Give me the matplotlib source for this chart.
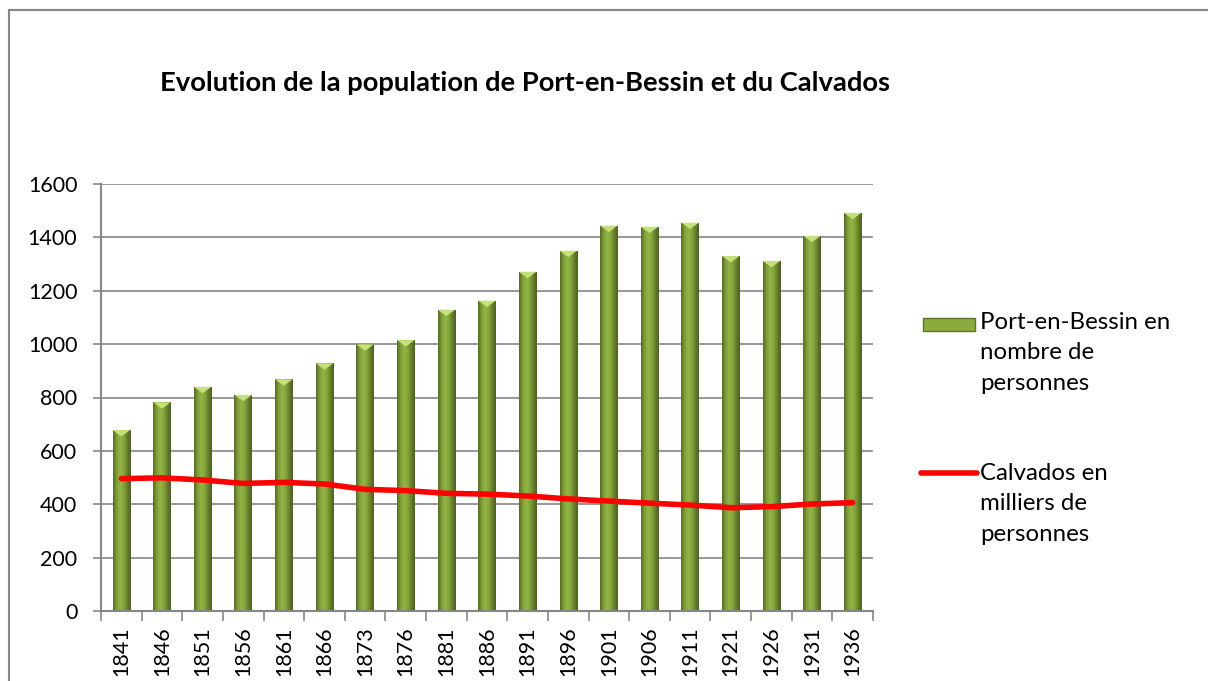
import matplotlib
matplotlib.use("Agg")
import matplotlib.pyplot as plt
import numpy as np
from matplotlib.colors import LinearSegmentedColormap
from matplotlib.patches import Rectangle, Polygon
from matplotlib.lines import Line2D

plt.rcParams['font.family'] = ['Lato', 'DejaVu Sans']

years = ["1841", "1846", "1851", "1856", "1861", "1866", "1873", "1876", "1881", "1886",
         "1891", "1896", "1901", "1906", "1911", "1921", "1926", "1931", "1936"]
port_en_bessin = [678, 782, 840, 810, 868, 928, 999, 1015, 1129, 1163,
                  1271, 1350, 1444, 1440, 1455, 1330, 1312, 1406, 1492]
calvados = [496, 499, 491, 478, 482, 476, 456, 451, 441, 438,
            431, 420, 412, 404, 397, 387, 391, 401, 406]

label_bar = "Port-en-Bessin en\nnombre de\npersonnes"
label_line = "Calvados en\nmilliers de\npersonnes"
title = "Evolution de la population de Port-en-Bessin et du Calvados"

W, H = 1208, 681
fig = plt.figure(figsize=(W / 100, H / 100), dpi=100)
ax = fig.add_axes([101 / W, 1 - 611 / H, 772 / W, 427 / H])

# outer chart frame
fig.patches.append(Rectangle((9 / W, -0.1), 1.2, 1 - 10 / H + 0.1, transform=fig.transFigure,
                             fill=False, edgecolor="#868686", linewidth=1.5))

x = np.arange(len(years))
bw = 0.43
grid_c = "#868686"
tick_fs = 15.5
leg_fs = 17.3

ax.set_xlim(-0.5, len(years) - 0.5)
ax.set_ylim(0, 1600)
ax.set_yticks(range(0, 1601, 200))
ax.yaxis.grid(True, color=grid_c, linewidth=1.2)
ax.set_axisbelow(True)

cyl = LinearSegmentedColormap.from_list(
    "cyl", ["#546a26", "#7f9f36", "#93b446", "#86a63c", "#66802d", "#4b5f22"])
grad = np.linspace(0, 1, 64).reshape(1, -1)

bars = ax.bar(x, port_en_bessin, width=bw, color="#77933c", zorder=2)
for b, h in zip(bars, port_en_bessin):
    x0 = b.get_x()
    im = ax.imshow(grad, cmap=cyl, aspect="auto", extent=(x0, x0 + bw, 0, h), zorder=2.1)
    im.set_clip_path(b)
    tri = Polygon([(x0, h), (x0 + bw, h), (x0 + bw / 2, h - 24)], closed=True,
                  facecolor="#c6e07c", edgecolor="none", zorder=2.2)
    ax.add_patch(tri)

ax.plot(x, calvados, color="#ff0000", linewidth=4, solid_capstyle="round",
        solid_joinstyle="round", zorder=3)

ax.set_xticks(x)
ax.set_xticklabels(years, rotation=90, fontsize=tick_fs)
ax.tick_params(axis="x", which="major", length=0, pad=11)
ax.set_xticks(np.arange(-0.5, len(years), 1), minor=True)
ax.tick_params(axis="x", which="minor", length=7, color=grid_c, width=1.2)
ax.tick_params(axis="y", length=6, color=grid_c, width=1.2, labelsize=tick_fs, pad=11)

for s in ["top", "right"]:
    ax.spines[s].set_visible(False)
for s in ["left", "bottom"]:
    ax.spines[s].set_color(grid_c)
    ax.spines[s].set_linewidth(1.5)

fig.text(525 / W, 1 - 83 / H, title, ha="center", va="center", fontsize=19.7, fontweight="bold")

# legend
fig.patches.append(Rectangle((923 / W, 1 - 331 / H), 52 / W, 13 / H, transform=fig.transFigure,
                             facecolor="#8aac3e", edgecolor="#5d7428", linewidth=1))
fig.lines.append(Line2D([921 / W, 977 / W], [1 - 473 / H] * 2, transform=fig.transFigure,
                        color="#ff0000", linewidth=4, solid_capstyle="round"))
fig.text(980 / W, 1 - 312 / H, label_bar, ha="left", va="top", fontsize=leg_fs, linespacing=1.55)
fig.text(980 / W, 1 - 463 / H, label_line, ha="left", va="top", fontsize=leg_fs, linespacing=1.55)

fig.savefig("out.png", dpi=100)
